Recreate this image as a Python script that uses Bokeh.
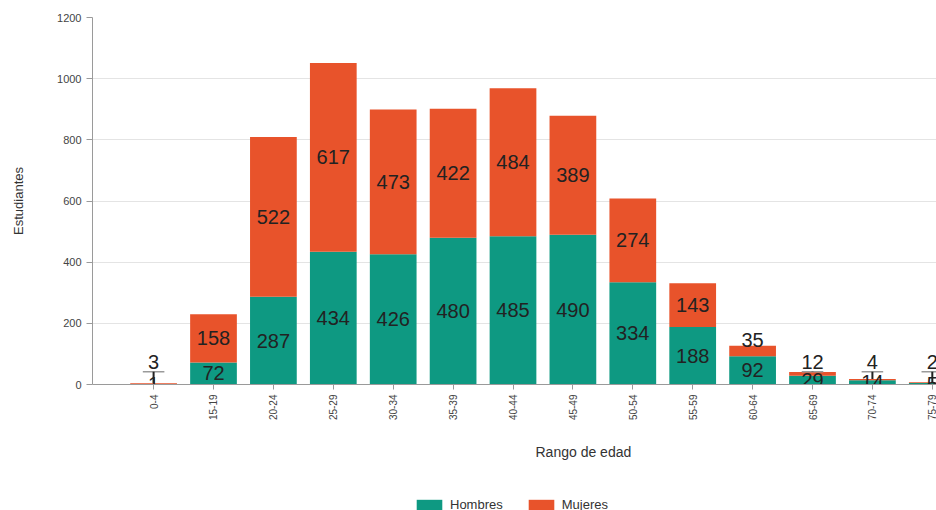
from bokeh.plotting import figure
from bokeh.layouts import column
from bokeh.models import ColumnDataSource, Legend, LegendItem, Title, FixedTicker, Range1d
from bokeh.embed import file_html
from bokeh.resources import INLINE
from bokeh.core.properties import value

categories = ["0-4", "15-19", "20-24", "25-29", "30-34", "35-39", "40-44",
              "45-49", "50-54", "55-59", "60-64", "65-69", "70-74", "75-79"]
hombres = [1, 72, 287, 434, 426, 480, 485, 490, 334, 188, 92, 29, 14, 5]
mujeres = [3, 158, 522, 617, 473, 422, 484, 389, 274, 143, 35, 12, 4, 2]
series_names = ["Hombres", "Mujeres"]

GREEN = "#0e9982"
ORANGE = "#e8532b"
FONT = "Liberation Sans"

idx = list(range(len(categories)))
tops = [h + m for h, m in zip(hombres, mujeres)]

p = figure(frame_width=844, frame_height=367, output_backend="svg", toolbar_location=None,
           x_range=Range1d(-1.02, 13.07), y_range=Range1d(0, 1200),
           min_border_left=92, min_border_top=17, min_border_right=0,
           min_border_bottom=90)
p.outline_line_color = None
p.background_fill_color = "white"
p.border_fill_color = "white"

src = ColumnDataSource(dict(x=idx, h=hombres, m=mujeres, top=tops))
p.vbar(x="x", width=0.78, bottom=0, top="h", source=src,
       fill_color=GREEN, line_color=None)
p.vbar(x="x", width=0.78, bottom="h", top="top", source=src,
       fill_color=ORANGE, line_color=None)

# data labels
hx, hy, ht = [], [], []
mx, my, mt, mb = [], [], [], []
lead_x0, lead_x1, lead_y = [], [], []
vx, vy0, vy1 = [], [], []
for i, (h, m, t) in enumerate(zip(hombres, mujeres, tops)):
    hx.append(i); hy.append(h / 2); ht.append(str(h))
    if m >= 50:
        mx.append(i); my.append(h + m / 2); mt.append(str(m)); mb.append("middle")
    elif m >= 20:
        mx.append(i); my.append(t - 4); mt.append(str(m)); mb.append("bottom")
    else:
        mx.append(i); my.append(50); mt.append(str(m)); mb.append("bottom")
        lead_x0.append(i - 0.18); lead_x1.append(i + 0.18); lead_y.append(42)
        vx.append(i); vy0.append(t); vy1.append(42)

p.segment(x0=lead_x0, x1=lead_x1, y0=lead_y, y1=lead_y, line_color="#9a9a9a", line_width=1.5)
p.segment(x0=vx, x1=vx, y0=vy0, y1=vy1, line_color="#222222", line_width=2)

p.text(x=hx, y=hy, text=ht, text_align="center", text_baseline="middle",
       text_font=value(FONT), text_font_size="20px", text_color="#222222")
p.text(x=mx, y=my, text=mt, text_align="center", text_baseline=mb,
       text_font=value(FONT), text_font_size="20px", text_color="#222222")

# axes
p.xaxis.ticker = FixedTicker(ticks=idx)
p.xaxis.major_label_overrides = {i: c for i, c in enumerate(categories)}
p.xaxis.major_label_orientation = 1.5708
p.xaxis.major_label_text_font = FONT
p.xaxis.major_label_text_font_size = "10px"
p.xaxis.major_label_text_color = "#444444"
p.xaxis.axis_line_color = "#9a9a9a"
p.xaxis.major_tick_line_color = "#9a9a9a"
p.xaxis.major_tick_out = 5
p.xaxis.major_tick_in = 0
p.xaxis.minor_tick_line_color = None

p.yaxis.ticker = FixedTicker(ticks=[0, 200, 400, 600, 800, 1000, 1200])
p.yaxis.axis_label = "Estudiantes"
p.yaxis.axis_label_text_font = FONT
p.yaxis.axis_label_text_font_size = "13px"
p.yaxis.axis_label_text_font_style = "normal"
p.yaxis.axis_label_text_color = "#333333"
p.yaxis.axis_label_standoff = 28
p.yaxis.major_label_text_font = FONT
p.yaxis.major_label_text_font_size = "11px"
p.yaxis.major_label_text_color = "#444444"
p.yaxis.axis_line_color = "#9a9a9a"
p.yaxis.major_tick_line_color = "#9a9a9a"
p.yaxis.major_tick_out = 6
p.yaxis.major_tick_in = 0
p.yaxis.minor_tick_line_color = None

p.xgrid.grid_line_color = None
p.ygrid.grid_line_color = "#e4e4e4"

xt = Title(text="Rango de edad", align="left", offset=443, standoff=36,
           text_font=FONT, text_font_size="14px", text_font_style="normal",
           text_color="#333333")
p.add_layout(xt, "below")

# legend strip as a second figure (its glyphs sit outside its visible range)
lg = figure(width=936, height=36, output_backend="svg", toolbar_location=None,
            x_range=Range1d(0, 1), y_range=Range1d(0, 1),
            min_border_left=0, min_border_right=0, min_border_top=0, min_border_bottom=0)
lg.axis.visible = False
lg.grid.visible = False
lg.outline_line_color = None
hidden = ColumnDataSource(dict(x=[5], t=[5], b=[4]))
g1 = lg.vbar(x="x", top="t", bottom="b", width=0.1, source=hidden, fill_color=GREEN, line_color=None)
g2 = lg.vbar(x="x", top="t", bottom="b", width=0.1, source=hidden, fill_color=ORANGE, line_color=None)
legend = Legend(items=[LegendItem(label=series_names[0], renderers=[g1]),
                       LegendItem(label=series_names[1], renderers=[g2])],
                orientation="horizontal", location=(321, 1),
                label_text_font=FONT, label_text_font_size="13px",
                label_text_color="#333333", glyph_width=32, glyph_height=13,
                spacing=22, border_line_color=None, background_fill_alpha=0,
                margin=0, padding=0)
lg.add_layout(legend, "center")

layout = column(p, lg, spacing=0)
open("out.html", "w").write(file_html(layout, INLINE))
